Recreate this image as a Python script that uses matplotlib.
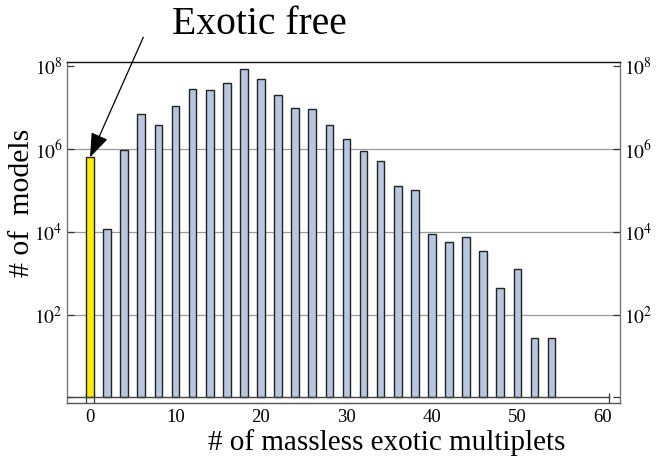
import matplotlib
matplotlib.use("Agg")
import matplotlib.pyplot as plt
import numpy as np

plt.rcParams["font.family"] = ["Liberation Serif", "DejaVu Serif"]
plt.rcParams["mathtext.fontset"] = "stix"

# number of massless exotic multiplets (even values only)
multiplets = [0, 2, 4, 6, 8, 10, 12, 14, 16, 18, 20, 22, 24, 26,
              28, 30, 32, 34, 36, 38, 40, 42, 44, 46, 48, 50, 52, 54]
# number of models for each multiplet count
models = [6.3e5, 1.15e4, 9.3e5, 6.9e6, 3.7e6, 1.08e7, 2.8e7, 2.6e7,
          4.0e7, 8.5e7, 4.9e7, 2.0e7, 1.0e7, 9.1e6, 3.8e6, 1.7e6,
          9.1e5, 5.1e5, 1.3e5, 1.05e5, 8.8e3, 5.8e3, 7.5e3, 3.5e3,
          440, 1.3e3, 27, 27]
x_ticks = [0, 10, 20, 30, 40, 50, 60]
y_ticks = [1, 1e2, 1e4, 1e6, 1e8]
y_tick_labels = ["", r"$10^2$", r"$10^4$", r"$10^6$", r"$10^8$"]

W, H = 656, 458
fig = plt.figure(figsize=(W / 100, H / 100), dpi=100)
ax = fig.add_axes([67 / W, 1 - 403 / H, (620 - 67) / W, (403 - 62) / H])

ax.set_yscale("log")
ax.set_xlim(-2.69, 62.0)
ax.set_ylim(10 ** -0.133, 10 ** 8.10)

colors = ["#ffee00" if m == 0 else "#b9c6e0" for m in multiplets]
heights = np.array(models) - 1
ax.bar(multiplets, heights, bottom=1, width=0.9, color=colors,
       edgecolor="#222222", linewidth=1.0, zorder=3)

# horizontal grid at labelled decades
for yv in y_ticks[1:-1]:
    ax.axhline(yv, color="#9a9a9a", linewidth=0.9, zorder=1)

# baseline of the bars
x0, x1 = ax.get_xlim()
ax.axhline(1, xmin=0, xmax=(60.7 - x0) / (x1 - x0), color="#444444",
           linewidth=1.0, zorder=4)

ax.set_yticks(y_ticks)
ax.set_yticklabels(y_tick_labels)
ax.yaxis.set_minor_locator(matplotlib.ticker.NullLocator())
ax.tick_params(axis="y", which="major", direction="in", length=5,
               width=0.9, color="#333333", left=True, right=True,
               labelleft=True, labelright=True, labelsize=14, pad=3)

ax.set_xticks(x_ticks)
ax.set_xticklabels([str(v) for v in x_ticks])
ax.set_xticks([-0.47, 0.47, 60.7], minor=True)
ax.tick_params(axis="x", which="major", length=0, labelsize=13.5, pad=4)
ax.tick_params(axis="x", which="minor", direction="in", length=7,
               width=0.9, color="#333333", top=False)

for side, col in [("top", "#111111"), ("bottom", "#555555"),
                  ("left", "#777777"), ("right", "#777777")]:
    ax.spines[side].set_color(col)
    ax.spines[side].set_linewidth(1.0)

fig.text(387 / W, 1 - 450 / H, "# of massless exotic multiplets",
         fontsize=21, ha="center", va="baseline")
fig.text(22 / W, 1 - 203 / H, "# of  models", fontsize=21.5,
         rotation=90, ha="center", va="center")

ax.annotate("", xy=(multiplets[0], models[0]), xycoords="data",
            xytext=(143.3, H - 37.3), textcoords="figure pixels",
            arrowprops=dict(arrowstyle="-|>,head_length=1.5,head_width=0.55",
                            color="black", linewidth=0.9,
                            shrinkA=0, shrinkB=0),
            annotation_clip=False, zorder=6)
fig.text(172 / W, 1 - 34 / H, "Exotic free", fontsize=28.5,
         ha="left", va="baseline")

fig.savefig("out.png", dpi=100)
